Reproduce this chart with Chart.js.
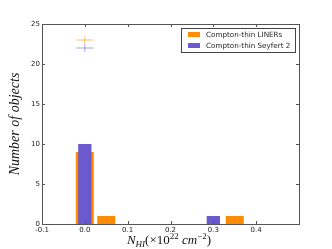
<!DOCTYPE html>
<html>
<head>
<meta charset="utf-8">
<script src="https://cdn.jsdelivr.net/npm/chart.js@4"></script>
<style>
html,body{margin:0;padding:0;background:#fff;}
#wrap{width:332px;height:249px;}
</style>
</head>
<body>
<div id="wrap"><canvas id="c" width="332" height="249"></canvas></div>
<script>
// ---- data ----
const linerCenters = [0.0, 0.05, 0.35];
const linerCounts  = [9, 1, 1];
const sy2Centers   = [0.0, 0.3];
const sy2Counts    = [10, 1];
// mean markers (cross: centre x, centre y, half-width x, half-height y)
const linerCross = [0.0, 23, 0.02, 0.5];
const sy2Cross   = [0.0, 22, 0.02, 0.5];
const seriesLabels = ['Compton-thin LINERs', 'Compton-thin Seyfert 2'];
const xTicks = [-0.1, 0.0, 0.1, 0.2, 0.3, 0.4];
const yTicks = [0, 5, 10, 15, 20, 25];

const ORANGE = '#ff8c00';
const PURPLE = '#6a5acd';

function crossPoints(c){
  return [
    {x:c[0]-c[2], y:c[1]}, {x:c[0]+c[2], y:c[1]},
    {x:c[0], y:null},
    {x:c[0], y:c[1]-c[3]}, {x:c[0], y:c[1]+c[3]}
  ];
}

const framePlugin = {
  id:'frame',
  afterDraw(chart){
    const ctx = chart.ctx, a = chart.chartArea;
    const xs = chart.scales.x, ys = chart.scales.y;
    ctx.save();
    ctx.strokeStyle = '#555';
    ctx.lineWidth = 1;
    ctx.beginPath();
    xTicks.concat([0.5]).forEach(v=>{
      const px = Math.round(xs.getPixelForValue(v)) + 0.5;
      ctx.moveTo(px, a.bottom); ctx.lineTo(px, a.bottom-3);
      ctx.moveTo(px, a.top); ctx.lineTo(px, a.top+3);
    });
    yTicks.forEach(v=>{
      const py = Math.round(ys.getPixelForValue(v)) + 0.5;
      ctx.moveTo(a.left, py); ctx.lineTo(a.left+3, py);
      ctx.moveTo(a.right, py); ctx.lineTo(a.right-3, py);
    });
    ctx.stroke();
    ctx.strokeStyle = '#555';
    ctx.strokeRect(Math.round(a.left)+0.5, Math.round(a.top)+0.5, Math.round(a.right-a.left), Math.round(a.bottom-a.top));

    // legend
    const lx = 181, ly = 28, lw = 114, lh = 24;
    ctx.fillStyle = '#fff';
    ctx.fillRect(lx, ly, lw, lh);
    ctx.strokeStyle = '#444';
    ctx.strokeRect(lx+0.5, ly+0.5, lw, lh);
    const cols = [ORANGE, PURPLE];
    ctx.font = '7.2px "DejaVu Sans"';
    ctx.textBaseline = 'middle';
    ctx.textAlign = 'left';
    seriesLabels.forEach((t,i)=>{
      const cy = ly + 6.5 + i*11;
      ctx.fillStyle = cols[i];
      ctx.fillRect(lx+7, cy-2.5, 12, 5);
      ctx.fillStyle = '#222';
      ctx.fillText(t, lx+25, cy+0.5);
    });

    // y title
    ctx.fillStyle = '#111';
    ctx.save();
    ctx.translate(19, (a.top+a.bottom)/2);
    ctx.rotate(-Math.PI/2);
    ctx.font = 'italic 14px "Liberation Serif"';
    ctx.textAlign = 'center';
    ctx.textBaseline = 'alphabetic';
    ctx.fillText('Number of objects', 0, 0);
    ctx.restore();

    // x title: N_HI(×10^22 cm^-2)
    const parts = [
      {t:'N', f:'italic 13px "Liberation Serif"', dy:0},
      {t:'HI', f:'italic 9px "Liberation Serif"', dy:2.5},
      {t:'(×10', f:'13px "Liberation Serif"', dy:0},
      {t:'22', f:'9px "Liberation Serif"', dy:-5.5},
      {t:' cm', f:'italic 13px "Liberation Serif"', dy:0},
      {t:'−2', f:'9px "Liberation Serif"', dy:-5.5},
      {t:')', f:'13px "Liberation Serif"', dy:0}
    ];
    let total = 0;
    parts.forEach(p=>{ctx.font=p.f; p.w=ctx.measureText(p.t).width; total+=p.w;});
    let x = 169 - total/2;
    const base = 244;
    ctx.textAlign = 'left';
    ctx.textBaseline = 'alphabetic';
    parts.forEach(p=>{ctx.font=p.f; ctx.fillText(p.t, x, base+p.dy); x+=p.w;});
    ctx.restore();
  }
};

new Chart(document.getElementById('c'), {
  type:'bar',
  data:{
    datasets:[
      {
        label: seriesLabels[0],
        data: linerCenters.map((x,i)=>({x:x, y:linerCounts[i]})),
        backgroundColor: ORANGE,
        borderWidth: 0,
        grouped:false,
        barPercentage:0.84,
        categoryPercentage:1,
        order:3
      },
      {
        label: seriesLabels[1],
        data: sy2Centers.map((x,i)=>({x:x, y:sy2Counts[i]})),
        backgroundColor: PURPLE,
        borderWidth: 0,
        grouped:false,
        barPercentage:0.62,
        categoryPercentage:1,
        order:2
      },
      {
        type:'line',
        label:'LINER mean',
        data: crossPoints(linerCross),
        borderColor:'rgba(255,140,0,0.55)',
        borderWidth:1,
        pointRadius:0,
        spanGaps:false,
        order:1
      },
      {
        type:'line',
        label:'Sy2 mean',
        data: crossPoints(sy2Cross),
        borderColor:'rgba(106,90,205,0.55)',
        borderWidth:1,
        pointRadius:0,
        spanGaps:false,
        order:0
      }
    ]
  },
  options:{
    responsive:false,
    animation:false,
    layout:{padding:{left:0, right:33, top:24, bottom:0}},
    plugins:{legend:{display:false}, tooltip:{enabled:false}},
    scales:{
      x:{
        type:'linear', min:-0.1, max:0.5, offset:false,
        grid:{display:false, drawTicks:false, offset:false},
        border:{display:false},
        afterFit(s){ s.height = 25; },
        afterBuildTicks(s){ s.ticks = xTicks.concat([0.5]).map(v=>({value:v})); },
        ticks:{
          padding:2,
          color:'#222',
          font:{family:'DejaVu Sans', size:7},
          maxRotation:0,
          autoSkip:false,
          callback:(v)=> v > 0.45 ? '' : (Math.round(v*10)/10).toFixed(1)
        }
      },
      y:{
        type:'linear', min:0, max:25,
        grid:{display:false, drawTicks:false},
        border:{display:false},
        afterFit(s){ s.width = 42; },
        afterBuildTicks(s){ s.ticks = yTicks.map(v=>({value:v})); },
        ticks:{
          padding:2,
          color:'#222',
          font:{family:'DejaVu Sans', size:7},
          callback:(v)=> String(v)
        }
      }
    }
  },
  plugins:[framePlugin]
});
</script>
</body>
</html>
